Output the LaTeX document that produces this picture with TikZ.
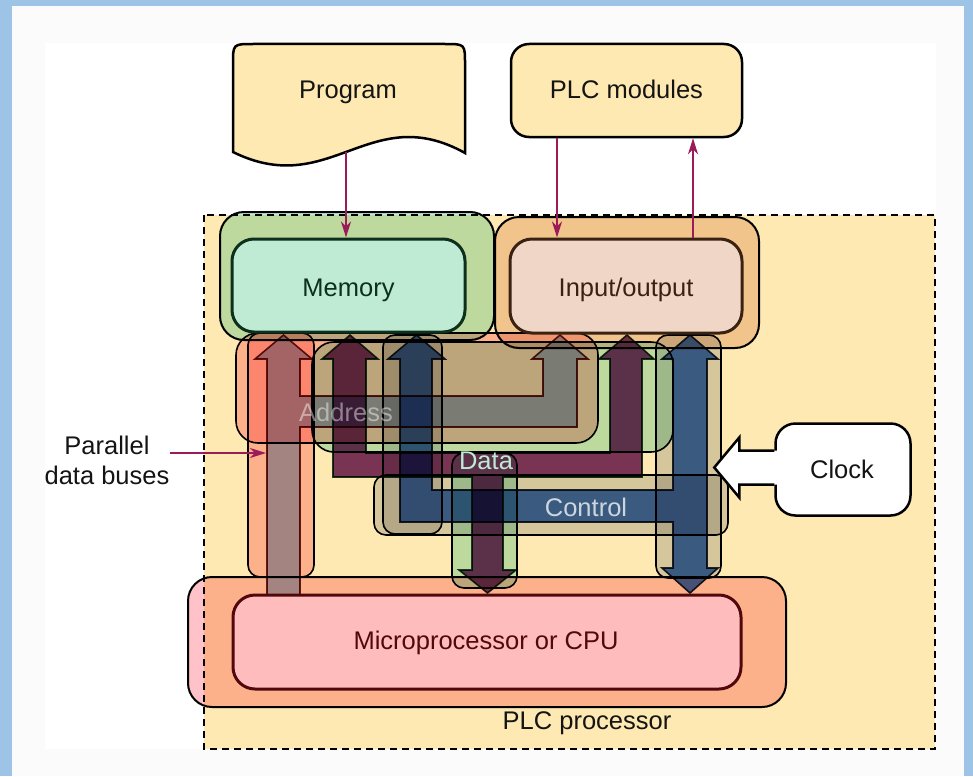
\documentclass[tikz,border=0pt]{standalone}
\usepackage{fontspec}
\setmainfont{Liberation Sans}
\usetikzlibrary{arrows.meta,calc}

\definecolor{frameblue}{RGB}{157,195,230}
\definecolor{offwhite}{RGB}{251,251,251}
\definecolor{plcyellow}{RGB}{254,233,178}
\definecolor{halored}{RGB}{254,194,200}
\definecolor{halogreen}{RGB}{190,238,226}
\definecolor{halotan}{RGB}{215,217,223}
\definecolor{iohalo}{RGB}{241,215,200}
\definecolor{addrbus}{RGB}{166,191,237}
\definecolor{addrline}{RGB}{110,30,30}
\definecolor{databus}{RGB}{123,58,119}
\definecolor{dataline}{RGB}{30,70,40}
\definecolor{ctrlbus}{RGB}{71,117,212}
\definecolor{ctrlline}{RGB}{40,40,55}
\definecolor{memfill}{RGB}{191,234,212}
\definecolor{memline}{RGB}{12,48,28}
\definecolor{iofill}{RGB}{239,214,198}
\definecolor{ioline}{RGB}{58,34,18}
\definecolor{cpufill}{RGB}{255,188,188}
\definecolor{cpuline}{RGB}{80,8,12}
\definecolor{linkred}{RGB}{155,28,88}
\definecolor{inktext}{RGB}{20,20,20}
\definecolor{datatext}{RGB}{192,234,212}
\definecolor{ctrltext}{RGB}{205,214,222}

\newcommand\dgfont{\fontsize{25.5pt}{30pt}\selectfont}

\tikzset{
  txt/.style={inner sep=0pt, anchor=base, font=\dgfont, text=inktext},
  topbox/.style={draw=black, line width=2.5pt, fill=plcyellow},
  outerbox/.style={draw=black, line width=2pt, rounded corners=24pt},
  innerbox/.style={rounded corners=22pt, line width=3pt, inner sep=0pt},
  halo/.style={draw=black, line width=1.6pt, rounded corners=12pt},
  bus/.style={line width=1.6pt, line join=miter},
  link/.style={draw=linkred, line width=1.8pt, -{Stealth[length=16pt,width=10pt,inset=5pt]}},
}

\begin{document}
\begin{tikzpicture}[x=1pt,y=-1pt]
\useasboundingbox (0,0) rectangle (973,776);

% page frame
\fill[frameblue] (0,0) rectangle (973,776);
\fill[offwhite] (12,6) rectangle (964,776);
\fill[white] (45,43) rectangle (936,749);

% PLC processor area
\draw[line width=2pt, dash pattern=on 7pt off 5pt, fill=plcyellow] (204,215) rectangle (935,749);

% external blocks
\draw[topbox] (233,152) -- (233,64) .. controls (233,44) .. (253,44) -- (445,44)
  .. controls (465,44) .. (465,64) -- (465,153)
  .. controls (370,100) and (330,200) .. (233,152) -- cycle;
\node[txt] (progtext) at (348,98) {Program};
\node[topbox, rounded corners=18pt, minimum width=231pt, minimum height=93pt, inner sep=0pt] (mods) at (626.5,90.5) {};
\node[txt] (modstext) at (626.5,98) {PLC modules};

% translucent frames, bus halos and the three buses
\begin{scope}[blend mode=multiply]
  \draw[outerbox, fill=halogreen] (220,212) rectangle (494,340);
  \draw[outerbox, fill=iohalo] (495,217) rectangle (759,348);
  \draw[outerbox, fill=halored] (188,577) rectangle (786,707);

  \draw[halo, fill=halored] (248,333) rectangle (314,577);
  \draw[halo, fill=halored, rounded corners=22pt] (236,333) rectangle (598,443);
  \draw[halo, fill=halogreen, rounded corners=22pt] (312,342) rectangle (673,452);
  \draw[halo, fill=halogreen] (452,453) rectangle (517,588);
  \draw[halo, fill=halotan] (383,335) rectangle (442,534);
  \draw[halo, fill=halotan] (374,475) rectangle (728,535);
  \draw[halo, fill=halotan] (656,335) rectangle (721,578);

  % address bus
  \draw[bus, fill=addrbus, draw=addrline]
    (267,597) -- (267,359) -- (255,359) -- (283.5,335) -- (312,359) -- (300,359)
    -- (300,396) -- (543,396) -- (543,359) -- (532,359) -- (560,335) -- (588,359)
    -- (577,359) -- (577,427) -- (300,427) -- (300,597) -- cycle;
  % data bus
  \draw[bus, fill=databus, draw=dataline]
    (333,477) -- (333,359) -- (322,359) -- (350,335) -- (378,359) -- (366,359)
    -- (366,453) -- (610,453) -- (610,359) -- (599,359) -- (627,335) -- (654,359)
    -- (642,359) -- (642,477) -- (503,477) -- (503,570) -- (516,570) -- (487.5,593)
    -- (459,570) -- (472,570) -- (472,477) -- cycle;
  % control bus
  \draw[bus, fill=ctrlbus, draw=ctrlline]
    (400,522) -- (400,359) -- (388,359) -- (416.5,335) -- (445,359) -- (432,359)
    -- (432,490) -- (673,490) -- (673,359) -- (662,359) -- (690,335) -- (718,359)
    -- (707,359) -- (707,568) -- (718,568) -- (690,593) -- (662,568) -- (673,568)
    -- (673,522) -- cycle;
\end{scope}

% bus names
\node[txt, text=white, text opacity=0.45] (addrtext) at (346,421) {Address};
\node[txt, text=datatext] (datatext) at (486,469) {Data};
\node[txt, text=ctrltext] (ctrltext) at (586,516) {Control};

% inner blocks
\node[innerbox, draw=memline, fill=memfill, minimum width=233pt, minimum height=93pt] (mem) at (348.5,285.5) {};
\node[txt, text=memline] (memtext) at (348.5,296) {Memory};
\node[innerbox, draw=ioline, fill=iofill, minimum width=232pt, minimum height=94pt] (io) at (626,286) {};
\node[txt, text=ioline] (iotext) at (626,296) {Input/output};
\node[innerbox, draw=cpuline, fill=cpufill, minimum width=508pt, minimum height=94pt] (cpu) at (487,642) {};
\node[txt, text=cpuline] (cputext) at (486,649) {Microprocessor or CPU};

\node[txt] (plctext) at (587,729) {PLC processor};

% clock and its input arrow
\node[draw=black, line width=2.5pt, fill=white, rounded corners=20pt, minimum width=135pt, minimum height=92pt, inner sep=0pt] (clock) at (843,469.5) {};
\node[txt] (clocktext) at (842,478) {Clock};
\fill[white] ($(clock.west)+(3,-19)$) -- ++(-38,0) -- ++(0,-13) -- ++(-25,30) -- ++(25,30) -- ++(0,-13) -- ++(38,0) -- cycle;
\draw[line width=2.5pt, line join=miter] ($(clock.west)+(0,-19)$) -- ++(-35,0) -- ++(0,-13) -- ++(-25,30) -- ++(25,30) -- ++(0,-13) -- ++(35,0);

% links to the outside blocks
\coordinate (progout) at (346,152);
\draw[link] (progout) -- (progout |- mem.north);
\coordinate (iodown) at (557,0);
\coordinate (ioup) at (693,0);
\draw[link] (iodown |- mods.south) -- (iodown |- io.north);
\draw[link] (ioup |- io.north) -- (ioup |- mods.south);

% side label
\node[txt] (partext) at (107,454) {Parallel};
\node[txt] (bustext) at (107,484) {data buses};
\coordinate (busin) at (266,453);
\draw[link] (bustext.east |- busin) -- (busin);
\end{tikzpicture}
\end{document}
